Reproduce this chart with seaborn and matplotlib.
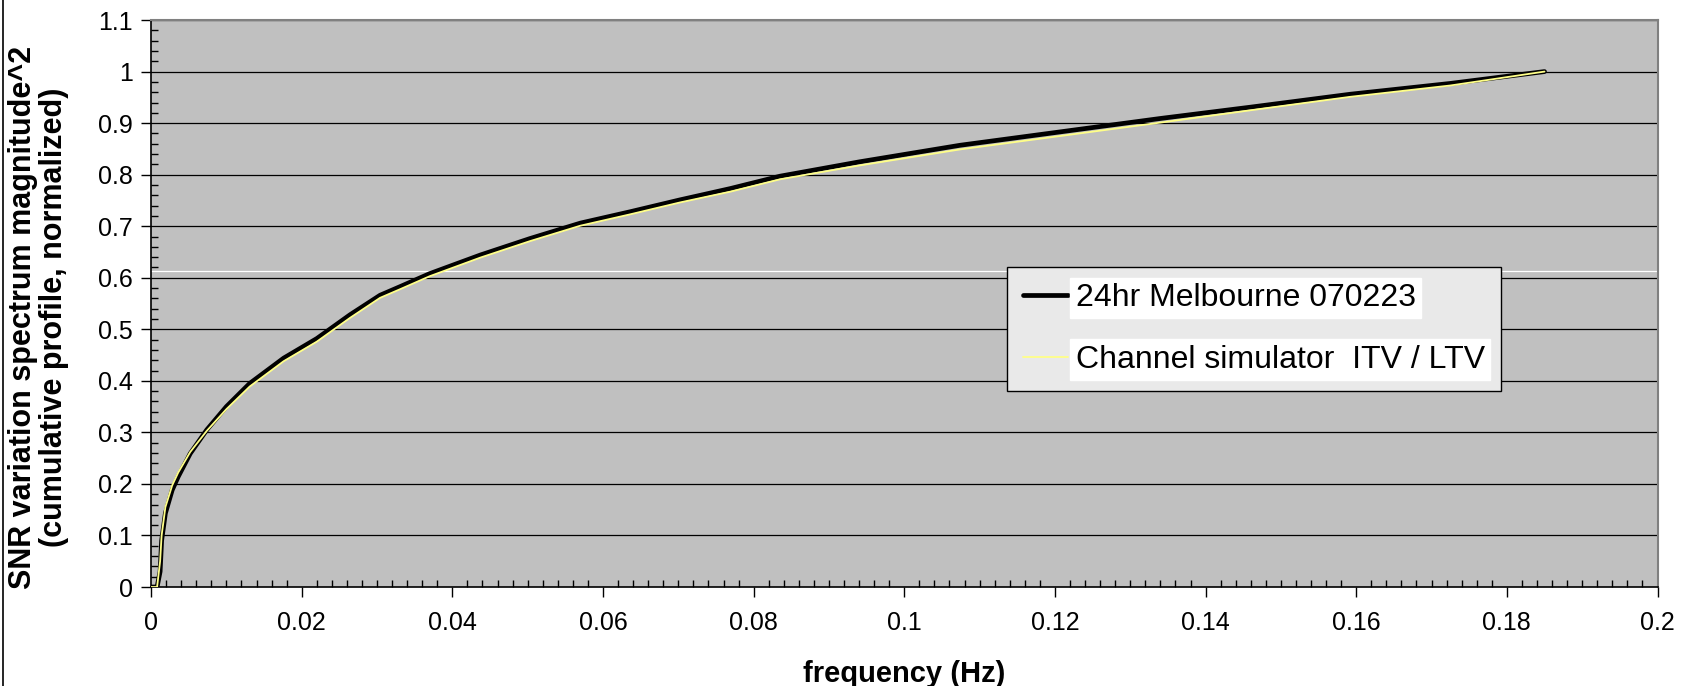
import numpy as np
import pandas as pd
import seaborn as sns
import matplotlib
matplotlib.use("Agg")
import matplotlib.pyplot as plt
from matplotlib.lines import Line2D
from matplotlib.ticker import MultipleLocator

# values
freq = [0.0, 0.0008, 0.0012, 0.0014, 0.0019, 0.0028, 0.0036, 0.0052, 0.0074, 0.0100,
        0.0131, 0.0176, 0.0220, 0.0264, 0.0304, 0.0331, 0.0370, 0.0437, 0.0503, 0.0570,
        0.0636, 0.0702, 0.0769, 0.0835, 0.0941, 0.1074, 0.1207, 0.1340, 0.1460, 0.1592,
        0.1725, 0.1850]
melbourne = [0.0, 0.0, 0.03, 0.09, 0.143, 0.188, 0.214, 0.259, 0.305, 0.350,
             0.395, 0.444, 0.482, 0.528, 0.566, 0.583, 0.608, 0.644, 0.676, 0.706,
             0.728, 0.751, 0.773, 0.797, 0.825, 0.857, 0.883, 0.909, 0.931, 0.956,
             0.977, 1.0]
simulator = [0.0, 0.0, 0.05, 0.10, 0.155, 0.197, 0.222, 0.262, 0.303, 0.345,
             0.389, 0.438, 0.476, 0.522, 0.561, 0.578, 0.603, 0.639, 0.671, 0.701,
             0.723, 0.746, 0.767, 0.791, 0.818, 0.849, 0.875, 0.901, 0.925, 0.951,
             0.973, 1.0]

labels = ["24hr Melbourne 070223", "Channel simulator  ITV / LTV"]
xticks = [0, 0.02, 0.04, 0.06, 0.08, 0.1, 0.12, 0.14, 0.16, 0.18, 0.2]
xtick_labels = ["0", "0.02", "0.04", "0.06", "0.08", "0.1", "0.12", "0.14", "0.16", "0.18", "0.2"]
yticks = [0, 0.1, 0.2, 0.3, 0.4, 0.5, 0.6, 0.7, 0.8, 0.9, 1, 1.1]
ytick_labels = ["0", "0.1", "0.2", "0.3", "0.4", "0.5", "0.6", "0.7", "0.8", "0.9", "1", "1.1"]

df = pd.DataFrame({"freq": freq, labels[0]: melbourne, labels[1]: simulator})

sns.set_style("white")
plt.rcParams["font.family"] = ["Liberation Sans", "DejaVu Sans"]
plt.rcParams["text.color"] = "black"
plt.rcParams["axes.labelcolor"] = "black"
plt.rcParams["xtick.color"] = "black"
plt.rcParams["ytick.color"] = "black"

fig = plt.figure(figsize=(16.86, 6.86), dpi=100)
ax = fig.add_axes([0.0896, 0.1443, 0.8935, 0.8265])
ax.set_facecolor("#c0c0c0")

for y in yticks[1:]:
    ax.axhline(y, color="black", lw=0.9, zorder=1)
# faint white streak seen in the original
ax.axhline(0.614, color="white", lw=0.9, zorder=1)

sns.lineplot(data=df, x="freq", y=labels[0], ax=ax, color="black", lw=3.4,
             label=labels[0], zorder=3, solid_capstyle="round")
sns.lineplot(data=df, x="freq", y=labels[1], ax=ax, color="#ffff88", lw=1.3,
             label=labels[1], zorder=4)

ax.set_xlim(0, 0.2)
ax.set_ylim(0, 1.1)
ax.set_xticks(xticks)
ax.set_xticklabels(xtick_labels)
ax.set_yticks(yticks)
ax.set_yticklabels(ytick_labels)
ax.xaxis.set_minor_locator(MultipleLocator(0.002))
ax.yaxis.set_minor_locator(MultipleLocator(0.02))
ax.tick_params(axis="both", which="major", direction="out", length=7, width=1,
               color="black", labelsize=18, pad=6)
ax.tick_params(axis="both", which="minor", direction="in", length=5, width=1,
               color="black")
ax.tick_params(axis="x", which="major", pad=10)
ax.tick_params(axis="both", which="both", left=True, bottom=True)

for side in ["left", "bottom"]:
    ax.spines[side].set_color("black")
    ax.spines[side].set_linewidth(1.2)
for side in ["top", "right"]:
    ax.spines[side].set_color("#808080")
    ax.spines[side].set_linewidth(1.5)

ax.set_xlabel("frequency (Hz)", fontsize=21, fontweight="bold", labelpad=18)
ax.set_ylabel("SNR variation spectrum magnitude^2\n(cumulative profile, normalized)",
              fontsize=22, fontweight="bold", labelpad=21, linespacing=1.05)
ax.yaxis.label.set_y(0.476)

leg = ax.legend(loc="upper left", bbox_to_anchor=(0.5973, 0.6108),
                bbox_transform=fig.transFigure, borderaxespad=0, fontsize=23,
                frameon=True, fancybox=False, handlelength=1.4, handletextpad=0.25,
                labelspacing=1.0, borderpad=0.5)
leg.get_frame().set_edgecolor("black")
leg.get_frame().set_linewidth(1.0)
leg.get_frame().set_facecolor("#e9e9e9")
leg.get_frame().set_alpha(1)
for t in leg.get_texts():
    t.set_backgroundcolor("white")
    t.set_color("black")

fig.add_artist(Line2D([0.002, 0.002], [0, 1], transform=fig.transFigure,
                      color="black", lw=1.2))

fig.savefig("out.png", dpi=100)
